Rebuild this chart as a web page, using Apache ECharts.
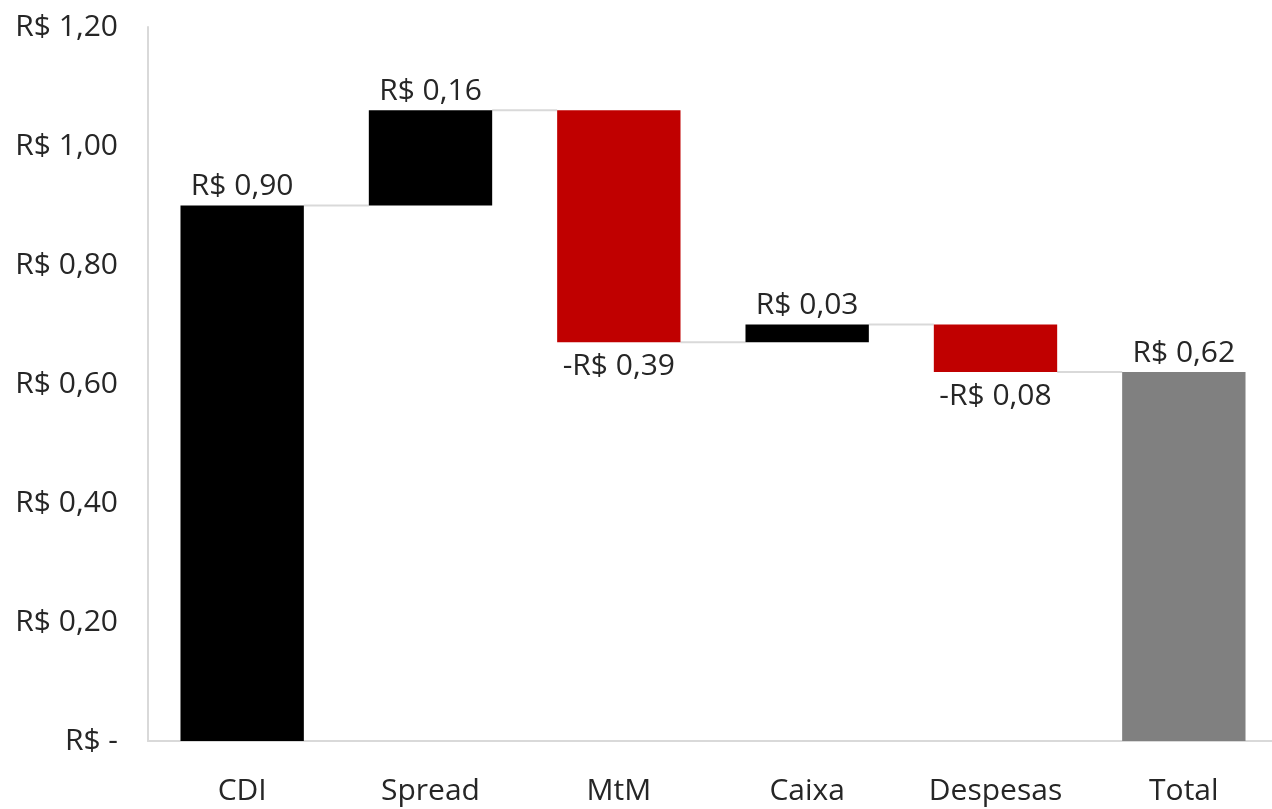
<!DOCTYPE html>
<html>
<head>
<meta charset="utf-8">
<script src="https://cdn.jsdelivr.net/npm/echarts@6/dist/echarts.min.js"></script>
<style>
  html, body { margin: 0; padding: 0; background: #fff; }
  #chart { width: 1272px; height: 809px; }
</style>
</head>
<body>
<div id="chart"></div>
<script>
// dados do gráfico
var categorias = ['CDI', 'Spread', 'MtM', 'Caixa', 'Despesas', 'Total'];
var variacoes = [0.90, 0.16, -0.39, 0.03, -0.08];
var total = 0.62;
var cores = { alta: '#000000', queda: '#C00000', total: '#808080' };

function moeda(v) {
    if (Math.abs(v) < 1e-9) return 'R$ -';
    var s = 'R$ ' + Math.abs(v).toFixed(2).replace('.', ',');
    return v < 0 ? '-' + s : s;
}

// monta base invisível + barra visível
var base = [], barras = [], niveis = [];
var acum = 0;
variacoes.forEach(function (v) {
    var novo = acum + v;
    base.push(Math.min(acum, novo));
    barras.push({
        value: Math.abs(v),
        real: v,
        itemStyle: { color: v >= 0 ? cores.alta : cores.queda },
        label: v >= 0 ? { position: 'top', distance: 4 } : { position: 'bottom', distance: 9 }
    });
    acum = novo;
    niveis.push(acum);
});
base.push(0);
barras.push({ value: total, real: total, itemStyle: { color: cores.total }, label: { position: 'top', distance: 4 } });

var larguraBarra = 0.655;

var myChart = echarts.init(document.getElementById('chart'));
var option = {
    animation: false,
    textStyle: { fontFamily: 'Open Sans' },
    grid: { left: 148, width: 1130, top: 27, bottom: 68, outerBoundsMode: 'none' },
    xAxis: {
        type: 'category',
        data: categorias,
        axisLine: { lineStyle: { color: '#d9d9d9', width: 2 } },
        axisTick: { show: false },
        axisLabel: { color: '#262626', fontSize: 30, margin: 35 }
    },
    yAxis: {
        type: 'value',
        min: 0,
        max: 1.2,
        interval: 0.2,
        axisLine: { show: true, lineStyle: { color: '#d9d9d9', width: 2 } },
        axisTick: { show: false },
        splitLine: { show: false },
        axisLabel: { color: '#262626', fontSize: 30, margin: 30, formatter: moeda }
    },
    series: [
        {
            type: 'bar',
            stack: 'wf',
            data: base,
            barWidth: (larguraBarra * 100) + '%',
            itemStyle: { color: 'transparent' },
            silent: true
        },
        {
            type: 'bar',
            stack: 'wf',
            data: barras,
            barWidth: (larguraBarra * 100) + '%',
            label: {
                show: true,
                color: '#262626',
                fontSize: 30,
                formatter: function (p) { return moeda(p.data.real); }
            }
        },
        {
            // linhas de ligação entre as barras
            type: 'custom',
            data: niveis.map(function (n, i) { return [i, n]; }),
            z: 1,
            renderItem: function (params, api) {
                var i = api.value(0);
                var p1 = api.coord([i, api.value(1)]);
                var p2 = api.coord([i + 1, api.value(1)]);
                var meia = api.size([1, 0])[0] * larguraBarra / 2;
                return {
                    type: 'line',
                    shape: { x1: p1[0] + meia, y1: p1[1], x2: p2[0] - meia, y2: p2[1] },
                    style: { stroke: '#d9d9d9', lineWidth: 2 }
                };
            }
        }
    ]
};
myChart.setOption(option);
</script>
</body>
</html>
